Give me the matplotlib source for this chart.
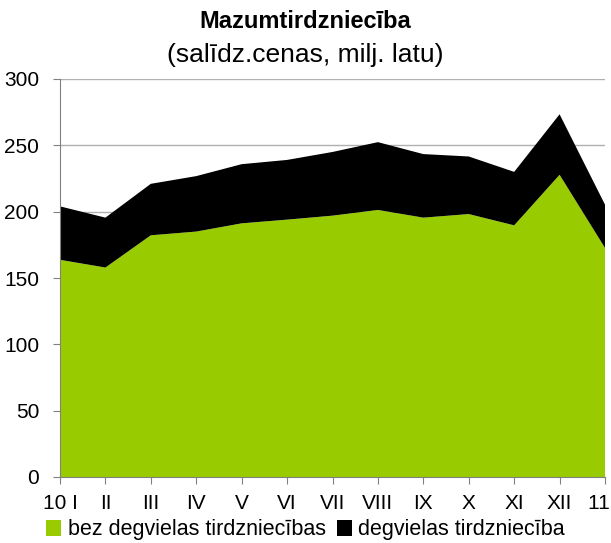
import numpy as np
import matplotlib.pyplot as plt

plt.rcParams['font.family'] = ['Liberation Sans', 'DejaVu Sans']

months = ["10 I", "II", "III", "IV", "V", "VI", "VII", "VIII", "IX", "X", "XI", "XII", "11 I"]
# bez degvielas tirdzniecības
non_fuel = [163.7, 157.9, 182.2, 185.0, 191.2, 194.0, 197.0, 201.3, 195.5, 198.2, 189.7, 227.8, 172.7]
# kopā (virsējā robeža)
total = [204.0, 195.5, 221.0, 226.8, 235.8, 239.0, 245.0, 252.4, 243.4, 241.6, 230.0, 273.4, 205.3]
fuel = [t - n for t, n in zip(total, non_fuel)]

x = np.arange(len(months))

fig = plt.figure(figsize=(6.11, 5.43), dpi=100)
ax = fig.add_axes([60 / 611, 1 - 477 / 543, 545 / 611, 398 / 543])

ax.stackplot(x, non_fuel, fuel, colors=["#99CC00", "#000000"],
             labels=["bez degvielas tirdzniecības", "degvielas tirdzniecība"], lw=0)

ax.set_xlim(0, len(months) - 1)
ax.set_ylim(0, 300)
ax.set_yticks(range(0, 301, 50))
ax.set_xticks(x)
ax.set_xticklabels(months)
ax.yaxis.grid(True, color="#b0b0b0", lw=1)
ax.set_axisbelow(True)
for s in ["top", "right"]:
    ax.spines[s].set_visible(False)
for s in ["left", "bottom"]:
    ax.spines[s].set_color("#808080")
ax.tick_params(axis="both", labelsize=15, color="#808080", length=5, direction="out")
ax.tick_params(axis="x", pad=7)
ax.tick_params(axis="y", pad=10)

fig.text(0.5, 1 - 21 / 543, "Mazumtirdzniecība", ha="center", va="center",
         fontsize=17, fontweight="bold")
fig.text(0.5, 1 - 55 / 543, "(salīdz.cenas, milj. latu)", ha="center", va="center",
         fontsize=19)

fig.legend(loc="center", bbox_to_anchor=(0.5, 1 - 530 / 543), ncol=2, frameon=False,
           fontsize=15.5, handlelength=0.7, handleheight=0.7, handletextpad=0.3,
           columnspacing=0.5, borderpad=0)

fig.savefig("out.png", dpi=100)
